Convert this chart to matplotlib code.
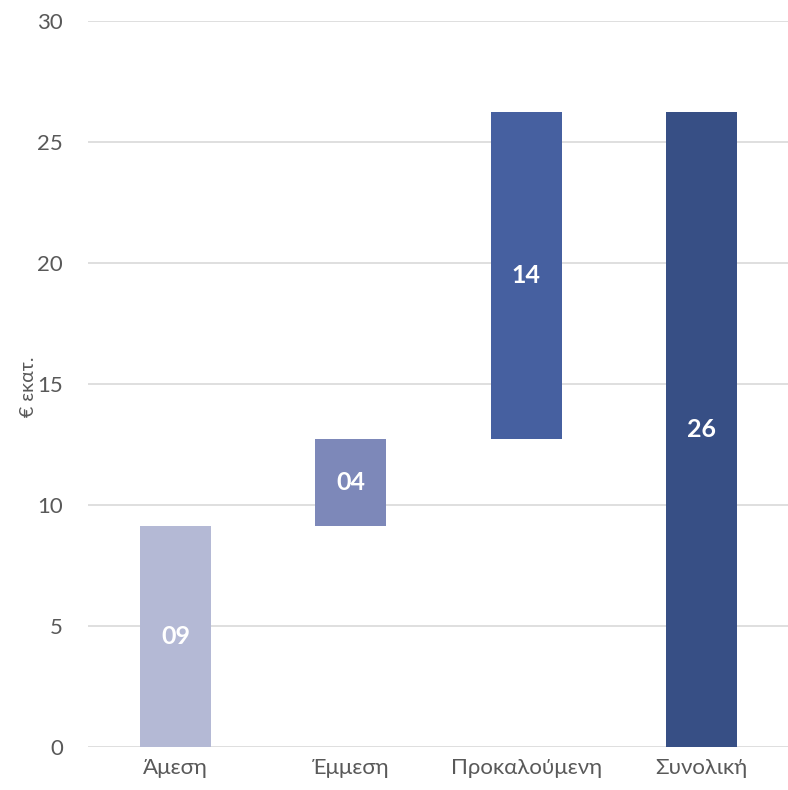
import numpy as np
import matplotlib.pyplot as plt

# data
categories = ["Άμεση", "Έμμεση", "Προκαλούμενη", "Συνολική"]
increments = [9.13, 3.60, 13.51]
total = 26.24
labels = ["09", "04", "14", "26"]

colors = ["#b4b9d5", "#7d88b9", "#4660a0", "#374f85"]

heights = increments + [total]
bottoms = list(np.concatenate([[0], np.cumsum(increments)[:-1]])) + [0]

plt.rcParams['font.family'] = ['Lato', 'DejaVu Sans']

fig = plt.figure(figsize=(7.88, 7.90), dpi=100)
ax = fig.add_axes([88 / 788, 43 / 790, 701 / 788, 726 / 790])

x = np.arange(len(categories))
ax.bar(x, heights, bottom=bottoms, width=0.405, color=colors, zorder=3)

for xi, b, h, lab in zip(x, bottoms, heights, labels):
    ax.text(xi, b + h / 2, lab, ha="center", va="center", color="white",
            fontsize=18, fontweight="bold", zorder=4)

ax.set_xlim(-0.5, 3.5)
ax.set_ylim(0, 30)
ax.set_yticks(np.arange(0, 31, 5))
ax.set_xticks(x)
ax.set_xticklabels(categories)
ax.grid(axis="y", color="#d9d9d9", linewidth=1.2, zorder=0)
for s in ax.spines.values():
    s.set_visible(False)
ax.tick_params(axis="both", length=0, labelsize=16, colors="#595959")
ax.tick_params(axis="y", pad=18)
ax.tick_params(axis="x", pad=8)
fig.text(29 / 788, 1 - 387 / 790, "€ εκατ.", rotation=90, ha="center",
         va="center", fontsize=14, color="#595959")

plt.savefig("out.png", dpi=100)
